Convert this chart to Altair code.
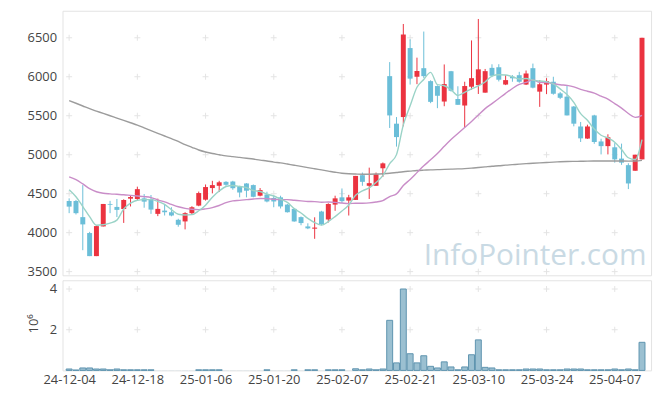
import altair as alt
import pandas as pd

# ---- data (trading-day index 0..84) ----
open_ = [4406, 4406, 4199, 3995, 3699, 4080, 4368, 4330, 4305, 4436,
         4432, 4440, 4432, 4241, 4283, 4262, 4165, 4144, 4250, 4347,
         4423, 4572, 4601, 4652, 4656, 4593, 4631, 4610, 4474, 4490,
         4445, 4453, 4360, 4305, 4199, 4080, 4051, 4271, 4169, 4360,
         4453, 4411, 4420, 4737, 4601, 4601, 4826, 6008, 5398, 5483,
         6368, 6000, 6110, 5944, 5881, 5682, 6071, 5715, 5631, 5872,
         5893, 5796, 6114, 6122, 5900, 5999, 6020, 5900, 6110, 5809,
         5900, 5936, 5787, 5745, 5618, 5362, 5207, 5504, 5170, 5110,
         5095, 4950, 4866, 4794, 4940]
close = [4334, 4250, 4106, 3699, 4084, 4368, 4358, 4292, 4420, 4457,
         4558, 4398, 4296, 4305, 4262, 4220, 4101, 4250, 4326, 4508,
         4585, 4610, 4646, 4614, 4570, 4515, 4538, 4460, 4546, 4400,
         4400, 4336, 4262, 4144, 4123, 4055, 4065, 4108, 4368, 4440,
         4404, 4453, 4728, 4652, 4635, 4750, 4889, 5504, 5226, 6542,
         5976, 6074, 6008, 5678, 5756, 5906, 5820, 5640, 5881, 5982,
         6095, 6072, 6012, 5962, 5957, 5980, 5936, 6042, 5860, 5904,
         5944, 5782, 5730, 5504, 5398, 5210, 5362, 5163, 5110, 5224,
         4940, 4898, 4631, 5000, 6500]
high = [4440, 4420, 4610, 4010, 4084, 4368, 4408, 4432, 4428, 4474,
        4590, 4495, 4483, 4436, 4368, 4326, 4178, 4262, 4339, 4527,
        4618, 4665, 4665, 4660, 4665, 4601, 4635, 4618, 4572, 4525,
        4474, 4474, 4368, 4310, 4207, 4120, 4197, 4280, 4377, 4474,
        4567, 4485, 4728, 4771, 4834, 4771, 4900, 6188, 5483, 6677,
        6480, 6245, 6580, 5955, 5890, 6158, 6075, 5878, 5936, 6466,
        6741, 6100, 6160, 6161, 6021, 6021, 6063, 6080, 6169, 5957,
        5982, 6000, 5805, 5893, 5625, 5420, 5385, 5512, 5205, 5262,
        5148, 5142, 4890, 5000, 6500]
low = [4250, 4233, 3775, 3699, 3699, 4080, 4250, 4200, 4125, 4336,
       4411, 4320, 4241, 4212, 4220, 4210, 4076, 4042, 4229, 4339,
       4411, 4504, 4521, 4601, 4550, 4453, 4453, 4453, 4466, 4389,
       4326, 4310, 4258, 4140, 4095, 4045, 3921, 4093, 4130, 4280,
       4381, 4220, 4420, 4601, 4432, 4601, 4715, 5343, 5104, 5364,
       5900, 5905, 5985, 5661, 5597, 5622, 5810, 5640, 5353, 5835,
       5779, 5796, 5995, 5940, 5893, 5936, 5923, 5894, 5851, 5614,
       5777, 5770, 5713, 5504, 5364, 5163, 5203, 5140, 5004, 5004,
       4898, 4870, 4559, 4794, 4940]
volume_m = [0.07, 0.02, 0.12, 0.12, 0.07, 0.07, 0.03, 0.07, 0.03, 0.03,
            0.03, 0.03, 0.03, 0.005, 0.005, 0.005, 0.005, 0.005, 0.005, 0.03,
            0.03, 0.03, 0.03, 0.005, 0.005, 0.005, 0.005, 0.005, 0.005, 0.03,
            0.005, 0.005, 0.005, 0.03, 0.005, 0.03, 0.03, 0.005, 0.03, 0.03,
            0.03, 0.005, 0.08, 0.03, 0.07, 0.03, 0.07, 2.46, 0.37, 4.0,
            0.82, 0.37, 0.72, 0.2, 0.12, 0.42, 0.17, 0.03, 0.17, 0.77,
            1.5, 0.15, 0.12, 0.03, 0.03, 0.03, 0.03, 0.07, 0.07, 0.07,
            0.03, 0.03, 0.03, 0.07, 0.07, 0.07, 0.03, 0.03, 0.03, 0.03,
            0.07, 0.03, 0.07, 0.03, 1.38]
ma_short = [4550, 4460, 4335, 4205, 4095, 4101, 4123, 4161, 4304, 4378,
            4416, 4423, 4424, 4402, 4362, 4295, 4236, 4227, 4231, 4281,
            4353, 4455, 4534, 4592, 4605, 4592, 4578, 4541, 4528, 4494,
            4470, 4429, 4388, 4308, 4252, 4183, 4129, 4097, 4142, 4206,
            4277, 4355, 4479, 4536, 4575, 4644, 4731, 4886, 5001, 5383,
            5627, 5865, 5966, 6056, 5899, 5885, 5834, 5761, 5801, 5845,
            5883, 5933, 6009, 6026, 6022, 6000, 5972, 5977, 5956, 5945,
            5938, 5908, 5844, 5772, 5672, 5526, 5441, 5329, 5250, 5215,
            5160, 5067, 4961, 4938, 5194]
ma_mid = [4716, 4680, 4625, 4565, 4525, 4506, 4498, 4492, 4486, 4478,
          4470, 4462, 4450, 4420, 4395, 4362, 4332, 4312, 4300, 4295,
          4305, 4322, 4348, 4385, 4407, 4414, 4423, 4432, 4438, 4436,
          4428, 4424, 4423, 4415, 4408, 4400, 4398, 4390, 4393, 4389,
          4380, 4373, 4377, 4378, 4382, 4393, 4411, 4463, 4497, 4604,
          4683, 4770, 4857, 4934, 5015, 5108, 5196, 5273, 5349, 5425,
          5510, 5591, 5655, 5721, 5787, 5849, 5901, 5928, 5960, 5928,
          5926, 5912, 5898, 5889, 5871, 5837, 5814, 5790, 5751, 5713,
          5656, 5597, 5528, 5479, 5506]
ma_long = [5694, 5660, 5625, 5590, 5560, 5530, 5500, 5470, 5440, 5410,
           5380, 5345, 5310, 5275, 5240, 5205, 5170, 5130, 5095, 5060,
           5035, 5015, 5000, 4985, 4975, 4965, 4955, 4945, 4930, 4920,
           4905, 4895, 4880, 4865, 4850, 4835, 4820, 4805, 4790, 4775,
           4762, 4755, 4752, 4750, 4750, 4752, 4756, 4762, 4772, 4782,
           4790, 4798, 4802, 4805, 4808, 4812, 4815, 4818, 4822, 4828,
           4836, 4844, 4852, 4858, 4866, 4872, 4879, 4885, 4890, 4895,
           4900, 4905, 4909, 4912, 4914, 4916, 4918, 4919, 4920, 4920,
           4920, 4919, 4918, 4920, 4928]

x_ticks = [0, 10, 20, 30, 40, 50, 60, 70, 80]
x_labels = ["24-12-04", "24-12-18", "25-01-06", "25-01-20", "25-02-07",
            "25-02-21", "25-03-10", "25-03-24", "25-04-07"]
price_ticks = [3500, 4000, 4500, 5000, 5500, 6000, 6500]
vol_ticks = [2, 4]

# ---- styling ----
RED = "#EB3340"
BLUE = "#6BBED8"
TEAL = "#9AD3C7"
PINK = "#C98DC8"
GRAY = "#9C9C9C"
VFILL = "#9BC0D1"
VSTROKE = "#5E94AF"
GRID = "#E4E4E4"
TXT = "#444444"
FONT = "Open Sans"
W = 594
H_PRICE = 267
H_VOL = 91

n = len(close)
df = pd.DataFrame({
    "i": list(range(n)), "open": open_, "close": close, "high": high,
    "low": low, "vol": volume_m, "ma_s": ma_short, "ma_m": ma_mid, "ma_l": ma_long,
})

x_scale = alt.Scale(domain=[-0.25, 84.6], nice=False, zero=False)
p_scale = alt.Scale(domain=[3453, 6847], nice=False, zero=False)
v_scale = alt.Scale(domain=[0, 4.43], nice=False, zero=False)

label_expr = "[" + ",".join("'%s'" % s for s in x_labels) + "][round(datum.value/10)]"

y_axis_p = alt.Axis(values=price_ticks, format="d", ticks=False, domain=False, grid=False,
                    labelPadding=6, labelFontSize=13, labelColor=TXT, labelFont=FONT,
                    title=None, minExtent=54, maxExtent=54)
y_axis_v = alt.Axis(values=vol_ticks, format="d", ticks=False, domain=False, grid=False,
                    labelPadding=6, labelFontSize=13, labelColor=TXT, labelFont=FONT,
                    title=None, minExtent=54, maxExtent=54)
x_axis_v = alt.Axis(values=x_ticks, labelExpr=label_expr, ticks=False, domain=False,
                    grid=False, labelPadding=3, labelFontSize=13, labelColor=TXT,
                    labelFont=FONT, title=None, labelFlush=False)

cross_path = "M-1,0L1,0M0,-1L0,1"
cross_p = pd.DataFrame([(x, y) for x in x_ticks for y in price_ticks], columns=["i", "p"])
cross_v = pd.DataFrame([(x, y) for x in x_ticks for y in vol_ticks], columns=["i", "v"])

up_color = alt.condition("datum.close >= datum.open", alt.value(RED), alt.value(BLUE))

base = alt.Chart(df)

crosses_p = alt.Chart(cross_p).mark_point(shape=cross_path, size=36, filled=False,
                                          stroke=GRID, strokeWidth=1, opacity=1).encode(
    x=alt.X("i:Q", scale=x_scale, axis=None),
    y=alt.Y("p:Q", scale=p_scale, axis=y_axis_p),
)

wicks = base.mark_rule(strokeWidth=1).encode(
    x=alt.X("i:Q", scale=x_scale, axis=None),
    y=alt.Y("low:Q", scale=p_scale, axis=y_axis_p),
    y2="high:Q",
    color=up_color,
)
bodies = base.mark_bar(size=5).encode(
    x=alt.X("i:Q", scale=x_scale, axis=None),
    y=alt.Y("open:Q", scale=p_scale, axis=y_axis_p),
    y2="close:Q",
    color=up_color,
)

def ma_line(field, color):
    return base.mark_line(strokeWidth=1.4, color=color, interpolate="monotone").encode(
        x=alt.X("i:Q", scale=x_scale, axis=None),
        y=alt.Y(field + ":Q", scale=p_scale, axis=y_axis_p),
    )

watermark = alt.Chart(pd.DataFrame({"t": ["InfoPointer.com"]})).mark_text(
    font=FONT, fontSize=30, color="#C9DAE4", align="center", baseline="alphabetic"
).encode(text="t:N", x=alt.value(477), y=alt.value(257))

price = alt.layer(
    crosses_p, watermark, wicks, bodies,
    ma_line("ma_l", GRAY), ma_line("ma_m", PINK), ma_line("ma_s", TEAL),
).properties(width=W, height=H_PRICE)

crosses_v = alt.Chart(cross_v).mark_point(shape=cross_path, size=36, filled=False,
                                          stroke=GRID, strokeWidth=1, opacity=1).encode(
    x=alt.X("i:Q", scale=x_scale, axis=x_axis_v),
    y=alt.Y("v:Q", scale=v_scale, axis=y_axis_v),
)
vbars = base.mark_bar(size=6, fill=VFILL, stroke=VSTROKE, strokeWidth=1).encode(
    x=alt.X("i:Q", scale=x_scale, axis=x_axis_v),
    y=alt.Y("vol:Q", scale=v_scale, axis=y_axis_v),
    strokeOpacity=alt.condition("datum.vol > 0.01", alt.value(1), alt.value(0)),
)
vtitle = alt.Chart(pd.DataFrame({"t": ["10⁶"]})).mark_text(
    font=FONT, fontSize=13, color=TXT, angle=270, align="center", baseline="middle"
).encode(text="t:N", x=alt.value(-29), y=alt.value(44))

vol = alt.layer(crosses_v, vbars, vtitle).properties(width=W, height=H_VOL)

chart = alt.vconcat(price, vol, spacing=0).resolve_scale(
    x="independent", y="independent"
).configure_view(stroke="#E3E3E3", strokeWidth=1).properties(
    padding={"left": 0, "top": 0, "right": 5, "bottom": 0}
)

chart.save("out.html", embed_options={"renderer": "svg", "actions": False})
